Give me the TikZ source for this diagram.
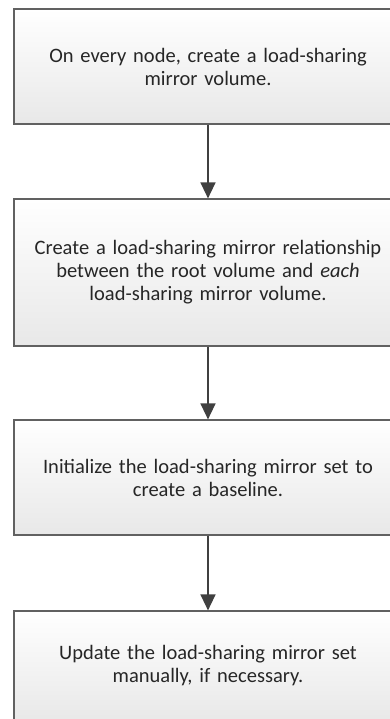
\documentclass[tikz,border=0pt]{standalone}
\usepackage{fontspec}
\setmainfont{Carlito}
\usetikzlibrary{arrows.meta}

\tikzset{
  stepbox/.style={draw=black!62, line width=1.2pt, top color=white, bottom color=black!9,
    minimum width=388pt, minimum height=115pt, text width=376pt, align=center,
    inner sep=0pt, font=\fontsize{20.5}{23}\selectfont, text=black!85},
  flow/.style={-{Triangle[length=16pt,width=15pt]}, draw=black!75, line width=1.4pt}
}

\begin{document}
\begin{tikzpicture}[x=1pt, y=1pt]
  \useasboundingbox (0, 0) rectangle (390, -719);
  \clip (0, 0) rectangle (390, -719);

  \node[stepbox] (create) at (208, -66.5) {On every node, create a load-sharing\\ mirror volume.};
  \node[stepbox, minimum height=147pt] (relate) at (208, -272.5)
    {Create a load-sharing mirror relationship\\ between the root volume and \emph{each}\\ load-sharing mirror volume.};
  \node[stepbox] (init) at (208, -477.5) {Initialize the load-sharing mirror set to\\ create a baseline.};
  \node[stepbox, minimum height=110pt] (update) at (208, -666) {Update the load-sharing mirror set\\ manually, if necessary.};

  \draw[flow] (create) -- (relate);
  \draw[flow] (relate) -- (init);
  \draw[flow] (init) -- (update);
\end{tikzpicture}
\end{document}
